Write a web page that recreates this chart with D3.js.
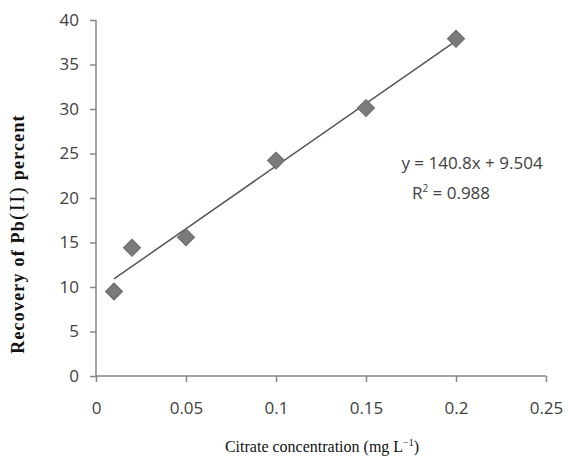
<!DOCTYPE html>
<html><head><meta charset="utf-8">
<script src="https://cdn.jsdelivr.net/npm/d3@7"></script>
<style>body{margin:0;background:#fff}svg{display:block}</style>
</head><body>
<script>
const concentration = [0.01, 0.02, 0.05, 0.1, 0.15, 0.2];
const recovery = [9.5, 14.4, 15.6, 24.2, 30.1, 37.9];
const xTicks = [0, 0.05, 0.1, 0.15, 0.2, 0.25];
const yTicks = [0, 5, 10, 15, 20, 25, 30, 35, 40];
const slope = 140.8, intercept = 9.504;
const eqText = "y = 140.8x + 9.504";

const W = 574, H = 462;
const svg = d3.select("body").append("svg").attr("width", W).attr("height", H);
const x = d3.scaleLinear().domain([0, 0.25]).range([96, 546]);
const y = d3.scaleLinear().domain([0, 40]).range([376, 20]);
const axisColor = "#878787", tickFont = "'Open Sans', 'Liberation Sans', sans-serif";

const xa = svg.append("g").attr("transform", `translate(0,${y(0)})`)
  .call(d3.axisBottom(x).tickValues(xTicks).tickSize(6).tickPadding(20).tickFormat(d => d3.format("")(d)));
const ya = svg.append("g").attr("transform", `translate(${x(0)},0)`)
  .call(d3.axisLeft(y).tickValues(yTicks).tickSize(6).tickPadding(11));
[xa, ya].forEach(g => {
  g.selectAll("path, line").attr("stroke", axisColor).attr("stroke-width", 1.5);
  g.selectAll("text").attr("fill", "#404040").style("font-family", tickFont).style("font-size", "17px");
});
xa.select(".domain").attr("d", `M${x(0)},0H${x(0.25)}`);
ya.select(".domain").attr("d", `M0,${y(0)}V${y(40)}`);

// trendline
const xs = d3.extent(concentration);
svg.append("line")
  .attr("x1", x(xs[0])).attr("y1", y(slope * xs[0] + intercept))
  .attr("x2", x(xs[1])).attr("y2", y(slope * xs[1] + intercept))
  .attr("stroke", "#555").attr("stroke-width", 1.5);

// markers
svg.selectAll("path.pt").data(concentration).enter().append("path").attr("class", "pt")
  .attr("transform", (d, i) => `translate(${x(d)},${y(recovery[i])}) rotate(45)`)
  .attr("d", d3.symbol().type(d3.symbolSquare).size(145))
  .attr("fill", "#7a7a7a").attr("stroke", "#6a6a6a").attr("stroke-width", 1);

// equation
const eq = svg.append("g").style("font-family", tickFont).style("font-size", "17px").attr("fill", "#404040");
eq.append("text").attr("x", 472).attr("y", 169).attr("text-anchor", "middle").text(eqText);
const r2 = eq.append("text").attr("x", 451).attr("y", 199).attr("text-anchor", "middle");
r2.append("tspan").text("R");
r2.append("tspan").attr("dy", -7).style("font-size", "10px").text("2");
r2.append("tspan").attr("dy", 7).text(" = 0.988");

// axis titles
const serif = "'Liberation Serif', 'Times New Roman', serif";
const xt = svg.append("text").attr("x", 322).attr("y", 452).attr("text-anchor", "middle")
  .style("font-family", serif).style("font-size", "16px").attr("fill", "#111");
xt.append("tspan").text("Citrate concentration (mg L");
xt.append("tspan").attr("dy", -6).style("font-size", "10px").text("−1");
xt.append("tspan").attr("dy", 6).text(")");

const yt = svg.append("text").attr("transform", "translate(24,234) rotate(-90)").attr("text-anchor", "middle")
  .style("font-family", serif).style("font-size", "18px").style("font-weight", "bold")
  .style("letter-spacing", "1.2px").attr("fill", "#111");
yt.append("tspan").text("Recovery of Pb");
yt.append("tspan").style("font-size", "22px").style("font-weight", "normal").text("(II)");
yt.append("tspan").text("  percent");
</script>
</body></html>
